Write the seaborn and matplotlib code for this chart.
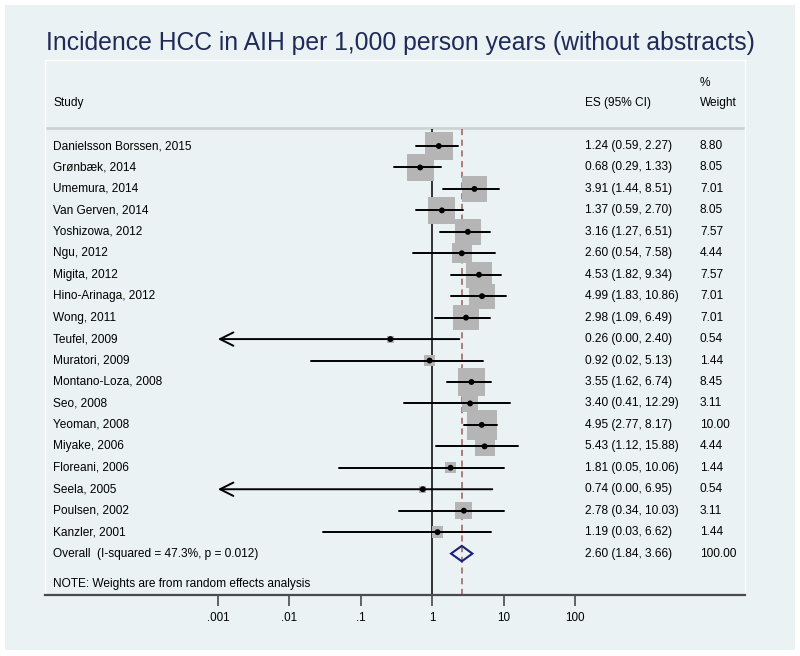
import numpy as np
import pandas as pd
import matplotlib
matplotlib.use("Agg")
import matplotlib.pyplot as plt
import seaborn as sns
from matplotlib.patches import Rectangle, Polygon
from matplotlib.transforms import blended_transform_factory

# study data
studies = ["Danielsson Borssen, 2015", "Grønbæk, 2014", "Umemura, 2014", "Van Gerven, 2014",
           "Yoshizowa, 2012", "Ngu, 2012", "Migita, 2012", "Hino-Arinaga, 2012", "Wong, 2011",
           "Teufel, 2009", "Muratori, 2009", "Montano-Loza, 2008", "Seo, 2008", "Yeoman, 2008",
           "Miyake, 2006", "Floreani, 2006", "Seela, 2005", "Poulsen, 2002", "Kanzler, 2001"]
es = [1.24, 0.68, 3.91, 1.37, 3.16, 2.60, 4.53, 4.99, 2.98, 0.26, 0.92, 3.55, 3.40, 4.95, 5.43, 1.81, 0.74, 2.78, 1.19]
lo = [0.59, 0.29, 1.44, 0.59, 1.27, 0.54, 1.82, 1.83, 1.09, 0.00, 0.02, 1.62, 0.41, 2.77, 1.12, 0.05, 0.00, 0.34, 0.03]
hi = [2.27, 1.33, 8.51, 2.70, 6.51, 7.58, 9.34, 10.86, 6.49, 2.40, 5.13, 6.74, 12.29, 8.17, 15.88, 10.06, 6.95, 10.03, 6.62]
weight = [8.80, 8.05, 7.01, 8.05, 7.57, 4.44, 7.57, 7.01, 7.01, 0.54, 1.44, 8.45, 3.11, 10.00, 4.44, 1.44, 0.54, 3.11, 1.44]

overall_es, overall_lo, overall_hi = 2.60, 1.84, 3.66
overall_label = "Overall  (I-squared = 47.3%, p = 0.012)"
note = "NOTE: Weights are from random effects analysis"
tick_vals = [0.001, 0.01, 0.1, 1, 10, 100]
tick_labels = [".001", ".01", ".1", "1", "10", "100"]
x_min = 0.001  # lower clipping limit (arrows)

df = pd.DataFrame({"study": studies, "es": es, "lo": lo, "hi": hi, "weight": weight})
df["row"] = np.arange(len(df))

sns.set_theme(style="white")
plt.rcParams["font.family"] = ["Liberation Sans", "DejaVu Sans"]
plt.rcParams["text.color"] = "black"
plt.rcParams["xtick.color"] = "black"

bg = "#eaf2f3"
fig = plt.figure(figsize=(8, 6.56), dpi=100)
fig.patch.set_facecolor("white")
fig.patches.append(Rectangle((5 / 800, 6 / 656), 790 / 800, 645 / 656, transform=fig.transFigure,
                             facecolor=bg, edgecolor="none", zorder=-5))

ax = fig.add_axes([45 / 800, (656 - 595) / 656, 700 / 800, 535 / 656])
ax.set_zorder(1)
ax.set_facecolor(bg)
ax.set_xscale("log")
ax.set_xlim(10 ** -5.42, 10 ** 4.38)
ax.set_ylim(20.93, -4.01)
for s in ["top", "left", "right"]:
    ax.spines[s].set_color("white")
    ax.spines[s].set_linewidth(1)
ax.spines["bottom"].set_color("#4a4a4a")
ax.spines["bottom"].set_linewidth(1.6)

top_line = -0.84
ax.axhline(top_line, color="#cdd3d5", lw=2, zorder=1)
ax.vlines(1, top_line + 0.05, 20.93, color="black", lw=1.1, zorder=2)
ax.vlines(overall_es, top_line + 0.05, 20.93, color="#a35a5a", lw=1.1, linestyles=(0, (4, 3)), zorder=2)

# weighted boxes
sns.scatterplot(data=df, x="es", y="row", size="weight", sizes=(46.8 * 0.54, 46.8 * 10),
                size_norm=(0.54, 10), marker="s", color="#b5b5b5", edgecolor="none",
                legend=False, ax=ax, zorder=3)

# confidence intervals
for _, r in df.iterrows():
    if r["lo"] < x_min:
        ax.annotate("", xy=(x_min, r["row"]), xytext=(r["hi"], r["row"]),
                    arrowprops=dict(arrowstyle="->,head_length=0.8,head_width=0.4", color="black",
                                    lw=1.4, shrinkA=0, shrinkB=0), zorder=4)
    else:
        ax.plot([r["lo"], r["hi"]], [r["row"], r["row"]], color="black", lw=1.4, zorder=4)

sns.scatterplot(data=df, x="es", y="row", color="black", s=18, edgecolor="none",
                legend=False, ax=ax, zorder=5)

# overall diamond
orow = len(df)
h = 0.36
ax.add_patch(Polygon([(overall_lo, orow), (overall_es, orow - h), (overall_hi, orow), (overall_es, orow + h)],
                     closed=True, facecolor="none", edgecolor="#1c1f7a", lw=1.5, zorder=5))

ax.set_xlabel("")
ax.set_ylabel("")
ax.set_xticks(tick_vals)
ax.set_xticklabels(tick_labels, fontsize=8.4)
ax.xaxis.set_minor_locator(matplotlib.ticker.NullLocator())
ax.tick_params(axis="x", direction="out", length=8, width=1.2, color="#4a4a4a", pad=4, bottom=True)
ax.set_yticks([])

# text columns
tr = blended_transform_factory(ax.transAxes, ax.transData)
fs = 8.6
x_study, x_es, x_w = 8 / 700, 540 / 700, 655 / 700
ax.text(x_study, -2.0, "Study", transform=tr, fontsize=fs, va="center")
ax.text(x_es, -2.0, "ES (95% CI)", transform=tr, fontsize=fs, va="center")
ax.text(x_w, -2.95, "%", transform=tr, fontsize=fs, va="center")
ax.text(x_w, -2.0, "Weight", transform=tr, fontsize=fs, va="center")
for _, r in df.iterrows():
    ax.text(x_study, r["row"], r["study"], transform=tr, fontsize=fs, va="center")
    ax.text(x_es, r["row"], f"{r['es']:.2f} ({r['lo']:.2f}, {r['hi']:.2f})", transform=tr, fontsize=fs, va="center")
    ax.text(x_w, r["row"], f"{r['weight']:.2f}", transform=tr, fontsize=fs, va="center")
ax.text(x_study, orow, overall_label, transform=tr, fontsize=fs, va="center")
ax.text(x_es, orow, f"{overall_es:.2f} ({overall_lo:.2f}, {overall_hi:.2f})", transform=tr, fontsize=fs, va="center")
ax.text(x_w, orow, "100.00", transform=tr, fontsize=fs, va="center")
ax.text(x_study, orow + 1.42, note, transform=tr, fontsize=fs, va="center")

fig.text(0.5, 1 - 43 / 656, "Incidence HCC in AIH per 1,000 person years (without abstracts)",
         ha="center", va="center", fontsize=17.8, color="#1f2a58")

fig.savefig("out.png", dpi=100, facecolor=fig.get_facecolor())
